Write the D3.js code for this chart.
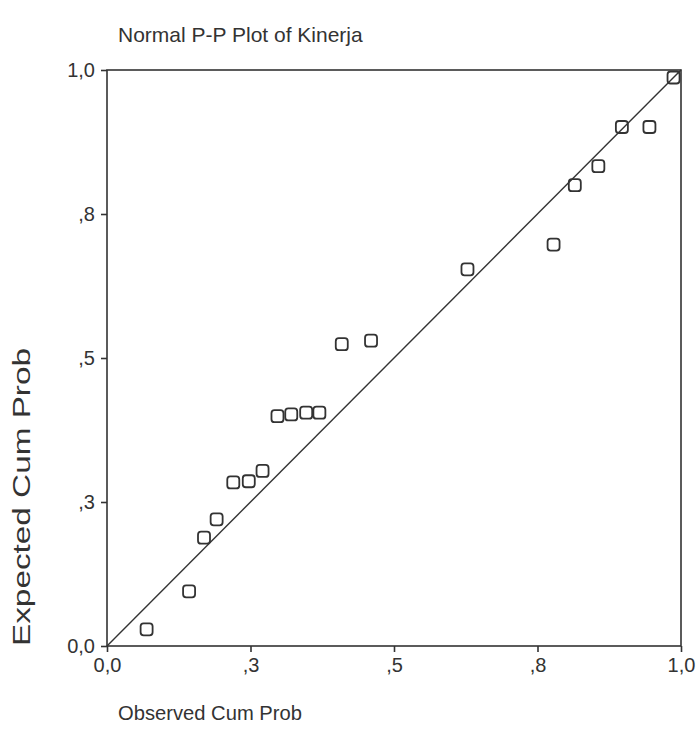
<!DOCTYPE html>
<html>
<head>
<meta charset="utf-8">
<script src="https://cdn.jsdelivr.net/npm/d3@7"></script>
<style>
  body { margin: 0; background: #fff; }
  text { font-family: "Liberation Sans", Arial, sans-serif; fill: #333; }
</style>
</head>
<body>
<script>
// observed cumulative probability (x) and expected cumulative probability (y)
var observed = [0.069, 0.143, 0.169, 0.191, 0.220, 0.247, 0.271, 0.297, 0.321, 0.347,
                0.370, 0.409, 0.460, 0.628, 0.778, 0.815, 0.856, 0.897, 0.945, 0.987];
var expected = [0.029, 0.095, 0.188, 0.220, 0.284, 0.286, 0.304, 0.399, 0.402, 0.405,
                0.405, 0.524, 0.530, 0.654, 0.697, 0.800, 0.833, 0.901, 0.901, 0.987];
var tickValues = [0, 0.25, 0.5, 0.75, 1];
var tickLabels = ["0,0", ",3", ",5", ",8", "1,0"];

var chart = {
  draw: function () {
    var width = 697, height = 753;
    var plotLeft = 107, plotRight = 681, plotTop = 70, plotBottom = 646;
    var ink = "#333";

    var svg = d3.select('body')
        .append('svg')
        .attr("width", width)
        .attr("height", height);

    var x = d3.scaleLinear().domain([0, 1]).range([plotLeft, plotRight]);
    var y = d3.scaleLinear().domain([0, 1]).range([plotBottom, plotTop]);

    // frame
    svg.append('rect')
        .attr("x", plotLeft).attr("y", plotTop)
        .attr("width", plotRight - plotLeft).attr("height", plotBottom - plotTop)
        .style("fill", "none").style("stroke", ink).style("stroke-width", 1.6);

    // axes
    var xAxis = d3.axisBottom(x).tickValues(tickValues)
        .tickFormat(function (d, i) { return tickLabels[i]; })
        .tickSize(6).tickPadding(6);
    var yAxis = d3.axisLeft(y).tickValues(tickValues)
        .tickFormat(function (d, i) { return tickLabels[i]; })
        .tickSize(6).tickPadding(6);

    var gx = svg.append('g').attr("transform", "translate(0," + plotBottom + ")").call(xAxis);
    var gy = svg.append('g').attr("transform", "translate(" + plotLeft + ",0)").call(yAxis);

    [gx, gy].forEach(function (g) {
        g.select(".domain").remove();
        g.selectAll(".tick line").style("stroke", ink).style("stroke-width", 1.6);
        g.selectAll(".tick text")
            .style("font-size", "20px")
            .style("fill", ink)
            .style("font-family", '"Liberation Sans", Arial, sans-serif');
    });

    // reference diagonal
    svg.append('line')
        .attr("x1", x(0)).attr("y1", y(0))
        .attr("x2", x(1)).attr("y2", y(1))
        .style("stroke", ink).style("stroke-width", 1.4);

    // points
    var data = observed.map(function (o, i) { return { o: o, e: expected[i] }; });
    var s = 12;
    svg.selectAll(".pt")
        .data(data)
        .enter()
        .append('rect')
        .attr("class", "pt")
        .attr("x", function (d) { return x(d.o) - s / 2; })
        .attr("y", function (d) { return y(d.e) - s / 2; })
        .attr("width", s).attr("height", s)
        .attr("rx", 3).attr("ry", 3)
        .style("fill", "none")
        .style("stroke", ink)
        .style("stroke-width", 1.8);

    // titles
    svg.append('text')
        .attr("x", 118).attr("y", 42)
        .style("font-size", "21px")
        .text("Normal P-P Plot of Kinerja");

    svg.append('text')
        .attr("x", 118).attr("y", 720)
        .style("font-size", "21px")
        .attr("textLength", 184)
        .attr("lengthAdjust", "spacingAndGlyphs")
        .text("Observed Cum Prob");

    svg.append('text')
        .attr("transform", "translate(30,646) rotate(-90)")
        .style("font-size", "23px")
        .attr("textLength", 298)
        .attr("lengthAdjust", "spacingAndGlyphs")
        .text("Expected Cum Prob");
  }
};

chart.draw();
</script>
</body>
</html>
